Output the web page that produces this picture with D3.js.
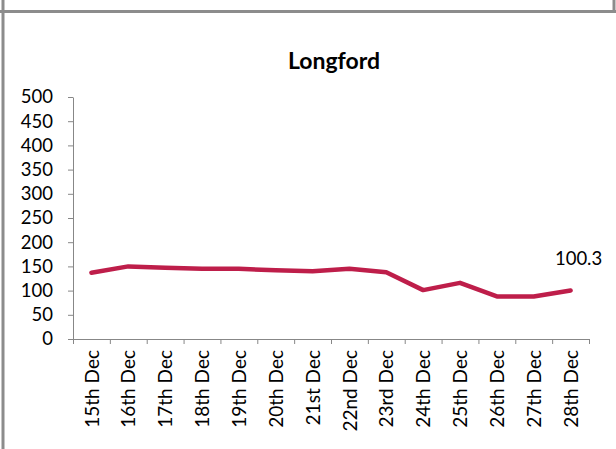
<!DOCTYPE html>
<html>
<head>
<meta charset="utf-8">
<script src="https://cdn.jsdelivr.net/npm/d3@7"></script>
<style>
  body { margin: 0; background: #fff; }
  #chart { width: 616px; height: 449px; }
  text { font-family: Lato, "Open Sans", sans-serif; }
</style>
</head>
<body>
<div id="chart"></div>
<script>
// chart data
const title = "Longford";
const days = ["15th Dec", "16th Dec", "17th Dec", "18th Dec", "19th Dec", "20th Dec", "21st Dec",
    "22nd Dec", "23rd Dec", "24th Dec", "25th Dec", "26th Dec", "27th Dec", "28th Dec"];
const values = [137, 150, 147, 145, 145, 142, 140, 145, 138, 101, 116, 88, 88, 100.3];
const yTicks = [0, 50, 100, 150, 200, 250, 300, 350, 400, 450, 500];

const W = 616, H = 449;
const plot = { left: 73, right: 589, top: 97, bottom: 339 };
const gray = "#878787";

const svg = d3.select("#chart")
    .append("svg")
    .attr("width", W)
    .attr("height", H);

// frame lines round the chart
svg.append("line").attr("x1", 3).attr("x2", 3).attr("y1", 0).attr("y2", H)
    .attr("stroke", "#8c8c8c").attr("stroke-width", 3);
svg.append("line").attr("x1", 0).attr("x2", 616).attr("y1", 11.5).attr("y2", 11.5)
    .attr("stroke", "#8c8c8c").attr("stroke-width", 3);
svg.append("line").attr("x1", 614).attr("x2", 614).attr("y1", 0).attr("y2", 12)
    .attr("stroke", "#8c8c8c").attr("stroke-width", 3);

// scales
const x = d3.scaleLinear().domain([0, days.length]).range([plot.left, plot.right]);
const y = d3.scaleLinear().domain([0, 500]).range([plot.bottom, plot.top]);

// y axis
const yAxis = svg.append("g")
    .attr("transform", `translate(${plot.left},0)`)
    .call(d3.axisLeft(y).tickValues(yTicks).tickSize(5).tickPadding(15).tickSizeOuter(0));
yAxis.selectAll("text").attr("font-size", 18.5).attr("fill", "#000");

// x axis: ticks between categories
const xAxis = svg.append("g")
    .attr("transform", `translate(0,${plot.bottom})`)
    .call(d3.axisBottom(x).tickValues(d3.range(days.length + 1)).tickFormat("").tickSize(5).tickSizeOuter(0));

// x labels, rotated
const xLabels = svg.append("g")
    .attr("transform", `translate(0,${plot.bottom})`)
    .call(d3.axisBottom(x)
        .tickValues(d3.range(days.length).map(i => i + 0.5))
        .tickFormat((d, i) => days[i])
        .tickSize(0).tickSizeOuter(0));
xLabels.select(".domain").remove();
xLabels.selectAll("text")
    .attr("font-size", 19)
    .attr("fill", "#000")
    .attr("transform", "rotate(-90)")
    .attr("text-anchor", "end")
    .attr("x", -11)
    .attr("y", 0)
    .attr("dy", "0.35em");

svg.selectAll(".domain").attr("stroke", gray);
svg.selectAll(".tick line").attr("stroke", gray);

// the line
const line = d3.line()
    .x((d, i) => x(i + 0.5))
    .y(d => y(d));

svg.append("path")
    .datum(values)
    .attr("fill", "none")
    .attr("stroke", "#BE1E4A")
    .attr("stroke-width", 4.5)
    .attr("stroke-linejoin", "round")
    .attr("stroke-linecap", "round")
    .attr("d", line);

// label on the last point
const last = values.length - 1;
svg.append("text")
    .attr("x", x(last + 0.5) + 8)
    .attr("y", y(values[last]) - 25)
    .attr("text-anchor", "middle")
    .attr("font-size", 18.5)
    .text(values[last]);

// title
svg.append("text")
    .attr("x", 334)
    .attr("y", 69)
    .attr("text-anchor", "middle")
    .attr("font-size", 23)
    .attr("font-weight", "bold")
    .text(title);
</script>
</body>
</html>
